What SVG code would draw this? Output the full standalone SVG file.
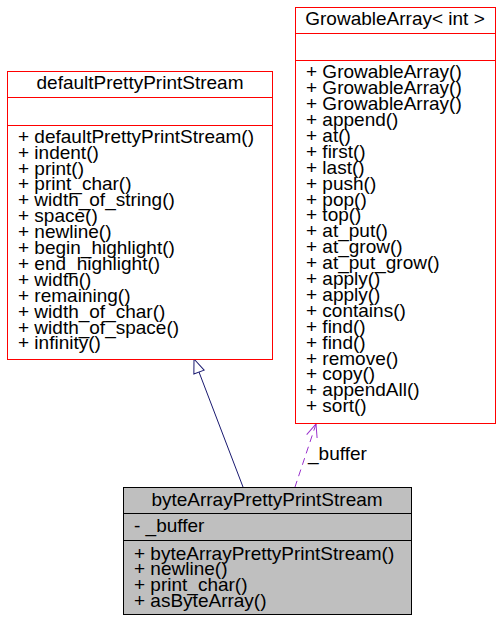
<svg xmlns="http://www.w3.org/2000/svg" width="503" height="623" viewBox="0 0 503 623">
<style>
text{font-family:"Liberation Sans",Arial,sans-serif;font-size:19px;fill:#000}
.c{text-anchor:middle}
.box{fill:#fff;stroke:#ff0000;stroke-width:1}
.gbox{fill:#bfbfbf;stroke:#000;stroke-width:1}
.lr{stroke:#ff0000;stroke-width:1}
.lk{stroke:#000;stroke-width:1}
</style>
<defs>
<marker id="tri" markerWidth="16" markerHeight="16" refX="1" refY="8" orient="auto" markerUnits="userSpaceOnUse" viewBox="0 0 16 16">
<path d="M1,8 L15,2.5 L15,13.5 Z" fill="#fff" stroke="#191970" stroke-width="1"/>
</marker>
<marker id="open" markerWidth="16" markerHeight="16" refX="1" refY="8" orient="auto" markerUnits="userSpaceOnUse" viewBox="0 0 16 16">
<path d="M14,2.5 L1,8 L14,13.5" fill="none" stroke="#9a32cd" stroke-width="1"/>
</marker>
</defs>
<g id="edges">
<line x1="194" y1="359" x2="243" y2="487" stroke="#191970" stroke-width="1" marker-start="url(#tri)"/>
<line x1="316" y1="424" x2="295" y2="487" stroke="#9a32cd" stroke-width="1" stroke-dasharray="7,5" marker-start="url(#open)"/>
<text x="308" y="460">_buffer</text>
</g>
<g id="defaultPrettyPrintStream">
<rect class="box" x="7.5" y="71.5" width="265" height="288"/>
<line class="lr" x1="7.5" y1="97.5" x2="272.5" y2="97.5"/>
<line class="lr" x1="7.5" y1="125.5" x2="272.5" y2="125.5"/>
<text class="c" x="140" y="89">defaultPrettyPrintStream</text>
<text x="18" y="142.7">+ defaultPrettyPrintStream()</text>
<text x="18" y="158.6">+ indent()</text>
<text x="18" y="174.5">+ print()</text>
<text x="18" y="190.4">+ print_char()</text>
<text x="18" y="206.3">+ width_of_string()</text>
<text x="18" y="222.2">+ space()</text>
<text x="18" y="238.1">+ newline()</text>
<text x="18" y="254">+ begin_highlight()</text>
<text x="18" y="269.9">+ end_highlight()</text>
<text x="18" y="285.8">+ width()</text>
<text x="18" y="301.7">+ remaining()</text>
<text x="18" y="317.6">+ width_of_char()</text>
<text x="18" y="333.5">+ width_of_space()</text>
<text x="18" y="349.4">+ infinity()</text>
</g>
<g id="GrowableArray">
<rect class="box" x="295.5" y="7.5" width="200" height="416"/>
<line class="lr" x1="295.5" y1="33.5" x2="495.5" y2="33.5"/>
<line class="lr" x1="295.5" y1="60.5" x2="495.5" y2="60.5"/>
<text class="c" x="395" y="25">GrowableArray&lt; int &gt;</text>
<text x="306" y="78.3">+ GrowableArray()</text>
<text x="306" y="94.2">+ GrowableArray()</text>
<text x="306" y="110.1">+ GrowableArray()</text>
<text x="306" y="126">+ append()</text>
<text x="306" y="141.9">+ at()</text>
<text x="306" y="157.8">+ first()</text>
<text x="306" y="173.7">+ last()</text>
<text x="306" y="189.6">+ push()</text>
<text x="306" y="205.5">+ pop()</text>
<text x="306" y="221.4">+ top()</text>
<text x="306" y="237.3">+ at_put()</text>
<text x="306" y="253.2">+ at_grow()</text>
<text x="306" y="269.1">+ at_put_grow()</text>
<text x="306" y="285">+ apply()</text>
<text x="306" y="300.9">+ apply()</text>
<text x="306" y="316.8">+ contains()</text>
<text x="306" y="332.7">+ find()</text>
<text x="306" y="348.6">+ find()</text>
<text x="306" y="364.5">+ remove()</text>
<text x="306" y="380.4">+ copy()</text>
<text x="306" y="396.3">+ appendAll()</text>
<text x="306" y="412.2">+ sort()</text>
</g>
<g id="byteArrayPrettyPrintStream">
<rect class="gbox" x="123.5" y="487.5" width="288" height="127"/>
<line class="lk" x1="123.5" y1="513.5" x2="411.5" y2="513.5"/>
<line class="lk" x1="123.5" y1="540.5" x2="411.5" y2="540.5"/>
<text class="c" x="267" y="506">byteArrayPrettyPrintStream</text>
<text x="134" y="532">- _buffer</text>
<text x="134" y="559.5">+ byteArrayPrettyPrintStream()</text>
<text x="134" y="575.3">+ newline()</text>
<text x="134" y="591.1">+ print_char()</text>
<text x="134" y="606.9">+ asByteArray()</text>
</g>
</svg>
